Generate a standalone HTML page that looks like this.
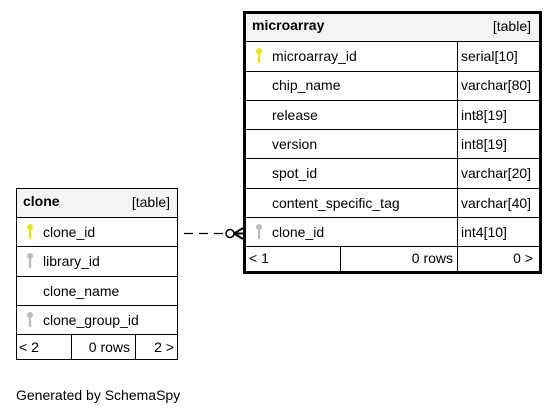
<!DOCTYPE html>
<html><head><meta charset="utf-8"><style>
html,body{margin:0;padding:0;background:#fff;}
svg{display:block;font-family:"Liberation Sans",Arial,sans-serif;font-size:14px;}
</style></head><body>
<svg width="557" height="415" viewBox="0 0 557 415" xmlns="http://www.w3.org/2000/svg">
<defs>
<g id="keyY"><circle cx="0" cy="-5" r="3" fill="#e6e600"/><rect x="-1" y="-3" width="2.2" height="10" fill="#e6e600"/></g>
<g id="keyG"><circle cx="0" cy="-5" r="3" fill="#bbb"/><rect x="-1" y="-3" width="2.2" height="10" fill="#bbb"/></g>
</defs>
<!-- microarray -->
<rect x="244.5" y="12.5" width="296" height="260" fill="#fff" stroke="#000" stroke-width="3"/>
<rect x="246" y="14" width="293" height="27" fill="#f4f4f4"/>
<g stroke="#000" stroke-width="1">
<line x1="244" y1="41.5" x2="540" y2="41.5"/>
<line x1="244" y1="71.5" x2="540" y2="71.5"/>
<line x1="244" y1="100.5" x2="540" y2="100.5"/>
<line x1="244" y1="129.5" x2="540" y2="129.5"/>
<line x1="244" y1="158.5" x2="540" y2="158.5"/>
<line x1="244" y1="188.5" x2="540" y2="188.5"/>
<line x1="244" y1="217.5" x2="540" y2="217.5"/>
<line x1="244" y1="246.5" x2="540" y2="246.5"/>
<line x1="457.5" y1="41" x2="457.5" y2="271"/>
<line x1="340.5" y1="246" x2="340.5" y2="271"/>
</g>
<text x="252" y="30" font-weight="bold">microarray</text>
<text x="531" y="31" text-anchor="end">[table]</text>
<use href="#keyY" x="259" y="56"/>
<text x="272" y="61">microarray_id</text><text x="461" y="61">serial[10]</text>
<text x="272" y="90">chip_name</text><text x="461" y="90">varchar[80]</text>
<text x="272" y="120">release</text><text x="461" y="120">int8[19]</text>
<text x="272" y="149">version</text><text x="461" y="149">int8[19]</text>
<text x="272" y="178">spot_id</text><text x="461" y="178">varchar[20]</text>
<text x="272" y="208">content_specific_tag</text><text x="461" y="208">varchar[40]</text>
<use href="#keyG" x="259" y="232"/>
<text x="272" y="237">clone_id</text><text x="461" y="237">int4[10]</text>
<text x="249" y="263">&lt; 1</text>
<text x="453" y="263" text-anchor="end">0 rows</text>
<text x="533" y="263" text-anchor="end">0 &gt;</text>
<!-- clone -->
<rect x="16.5" y="188.5" width="161" height="171" fill="#fff" stroke="#000" stroke-width="1"/>
<rect x="17" y="189" width="160" height="28" fill="#f4f4f4"/>
<g stroke="#000" stroke-width="1">
<line x1="16" y1="217.5" x2="178" y2="217.5"/>
<line x1="16" y1="246.5" x2="178" y2="246.5"/>
<line x1="16" y1="276.5" x2="178" y2="276.5"/>
<line x1="16" y1="305.5" x2="178" y2="305.5"/>
<line x1="16" y1="334.5" x2="178" y2="334.5"/>
<line x1="71.5" y1="334" x2="71.5" y2="360"/>
<line x1="135.5" y1="334" x2="135.5" y2="360"/>
</g>
<text x="23" y="206" font-weight="bold">clone</text>
<text x="170" y="207" text-anchor="end">[table]</text>
<use href="#keyY" x="30" y="232"/>
<text x="43" y="237">clone_id</text>
<use href="#keyG" x="30" y="261"/>
<text x="43" y="266">library_id</text>
<text x="43" y="296">clone_name</text>
<use href="#keyG" x="30" y="320"/>
<text x="43" y="325">clone_group_id</text>
<text x="19" y="352">&lt; 2</text>
<text x="130" y="352" text-anchor="end">0 rows</text>
<text x="174" y="352" text-anchor="end">2 &gt;</text>
<!-- connector -->
<line x1="184" y1="233.5" x2="226" y2="233.5" stroke="#000" stroke-width="1.3" stroke-dasharray="9,6"/>
<circle cx="230" cy="233.5" r="4" fill="#fff" stroke="#000" stroke-width="1.5"/>
<path d="M234 233.5 L243 228 M234 233.5 L243 239 M234 233.5 L243 233.5" stroke="#000" stroke-width="2"/>
<text x="16" y="400">Generated by SchemaSpy</text>
</svg>
</body></html>
